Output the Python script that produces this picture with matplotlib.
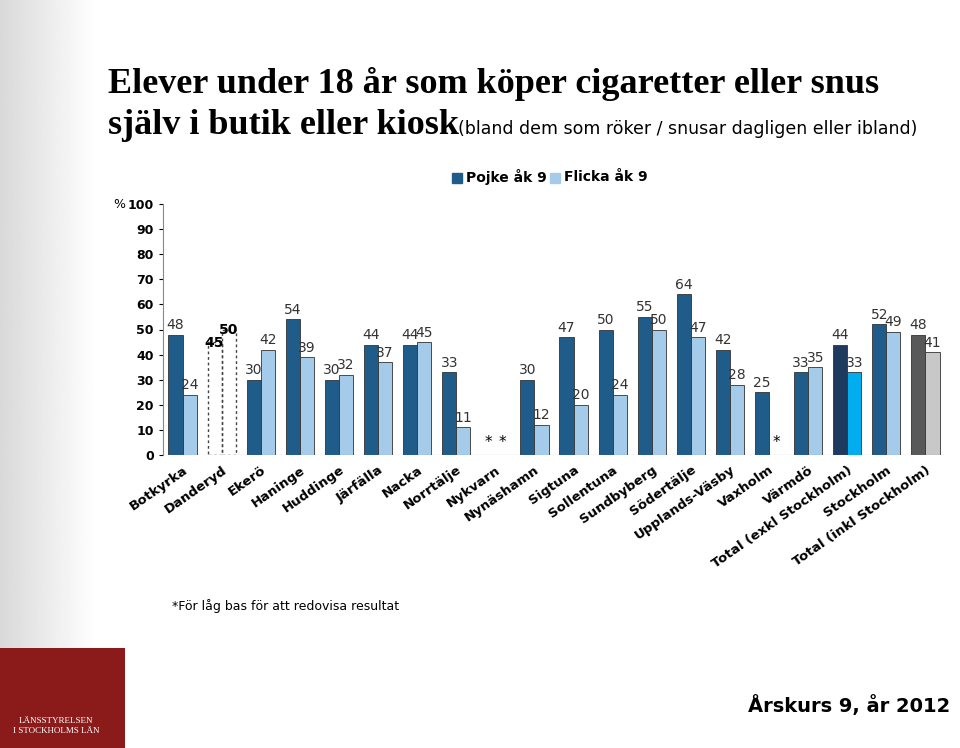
import matplotlib
matplotlib.use("Agg")
import matplotlib.pyplot as plt
import numpy as np
from matplotlib.patches import Rectangle

categories = ["Botkyrka","Danderyd","Ekerö","Haninge","Huddinge","Järfälla","Nacka","Norrtälje",
              "Nykvarn","Nynäshamn","Sigtuna","Sollentuna","Sundbyberg","Södertälje","Upplands-Väsby",
              "Vaxholm","Värmdö","Total (exkl Stockholm)","Stockholm","Total (inkl Stockholm)"]
pojke = [48,45,30,54,30,44,44,33,None,30,47,50,55,64,42,25,33,44,52,48]
flicka = [24,50,42,39,32,37,45,11,None,12,20,24,50,47,28,None,35,33,49,41]
yticks = [0,10,20,30,40,50,60,70,80,90,100]

W, H = 960, 748
fig = plt.figure(figsize=(W/100, H/100), dpi=100)
fig.patch.set_facecolor("white")
grad = fig.add_axes([0, 0, 0.1, 1]); grad.axis("off")
grad.imshow(np.linspace(0.85, 1, 100)[None, :], cmap="gray", vmin=0, vmax=1, aspect="auto", extent=[0,1,0,1])
logo = fig.add_axes([0, 0, 125/W, 100/H]); logo.axis("off")
logo.add_patch(Rectangle((0,0),1,1,color="#8B1A1A"))
logo.text(0.45, 0.22, "LÄNSSTYRELSEN\nI STOCKHOLMS LÄN", color="white", fontsize=6.5, ha="center", va="center", family="Liberation Serif")

ax = fig.add_axes([163/W, (H-455)/H, (945-163)/W, (455-204)/H])
x = np.arange(len(categories))
bw = 0.36
dark, light = "#1F5C8A", "#A5CBEA"
for i in range(len(categories)):
    p, f = pojke[i], flicka[i]
    c1, c2 = dark, light
    if i == 17: c1, c2 = "#1F3A5F", "#00AEEF"
    if i == 19: c1, c2 = "#595959", "#C8C8C8"
    if i == 1:
        for xx, v in [(x[i]-bw/2, p), (x[i]+bw/2, f)]:
            ax.bar(xx, v, bw, facecolor="none", edgecolor="#444", linestyle=(0,(2,2)), linewidth=1)
            ax.text(xx, v-3, str(v), ha="center", va="bottom", fontsize=10, fontweight="bold")
        continue
    if p is not None:
        ax.bar(x[i]-bw/2, p, bw, color=c1, edgecolor="#333", linewidth=0.6)
        ax.text(x[i]-bw/2, p+1, str(p), ha="center", va="bottom", fontsize=10, color="#333")
    else:
        ax.text(x[i]-bw/2, 2, "*", ha="center", va="bottom", fontsize=11)
    if f is not None:
        ax.bar(x[i]+bw/2, f, bw, color=c2, edgecolor="#333", linewidth=0.6)
        ax.text(x[i]+bw/2, f+1, str(f), ha="center", va="bottom", fontsize=10, color="#333")
    else:
        ax.text(x[i]+bw/2, 2, "*", ha="center", va="bottom", fontsize=11)

ax.set_xlim(-0.5, len(categories)-0.5)
ax.set_ylim(0, 100)
ax.set_yticks(yticks)
ax.set_yticklabels([str(t) for t in yticks], fontsize=9, fontweight="bold")
ax.set_xticks(x)
ax.set_xticklabels(categories, rotation=35, ha="right", va="top", rotation_mode="anchor",
                   fontsize=9.5, fontweight="bold")
for s in ["top","right","bottom"]:
    ax.spines[s].set_visible(False)
ax.spines["left"].set_color("#888")
ax.tick_params(axis="x", length=0, pad=6)
ax.tick_params(axis="y", length=3)
ax.axhline(0, color="#888", lw=0.8)

fig.text(113/W, 1-204/H, "%", fontsize=9, va="center")
fig.text(108/W, 1-84/H, "Elever under 18 år som köper cigaretter eller snus",
         fontsize=26, fontweight="bold", family="Liberation Serif", va="center")
fig.text(108/W, 1-126/H, "själv i butik eller kiosk", fontsize=26, fontweight="bold",
         family="Liberation Serif", va="center")
fig.text(458/W, 1-129/H, "(bland dem som röker / snusar dagligen eller ibland)",
         fontsize=12.5, va="center")
fig.patches.append(Rectangle((452/W, 1-183/H), 10/W, 10/H, color=dark, transform=fig.transFigure))
fig.text(466/W, 1-177/H, "Pojke åk 9", fontsize=10, fontweight="bold", va="center")
fig.patches.append(Rectangle((550/W, 1-183/H), 10/W, 10/H, color=light, transform=fig.transFigure))
fig.text(564/W, 1-177/H, "Flicka åk 9", fontsize=10, fontweight="bold", va="center")

fig.text(172/W, 1-606/H, "*För låg bas för att redovisa resultat", fontsize=9, va="center")
fig.text(950/W, 1-706/H, "Årskurs 9, år 2012", fontsize=14, fontweight="bold", ha="right", va="center")

fig.savefig("out.png", dpi=100)
